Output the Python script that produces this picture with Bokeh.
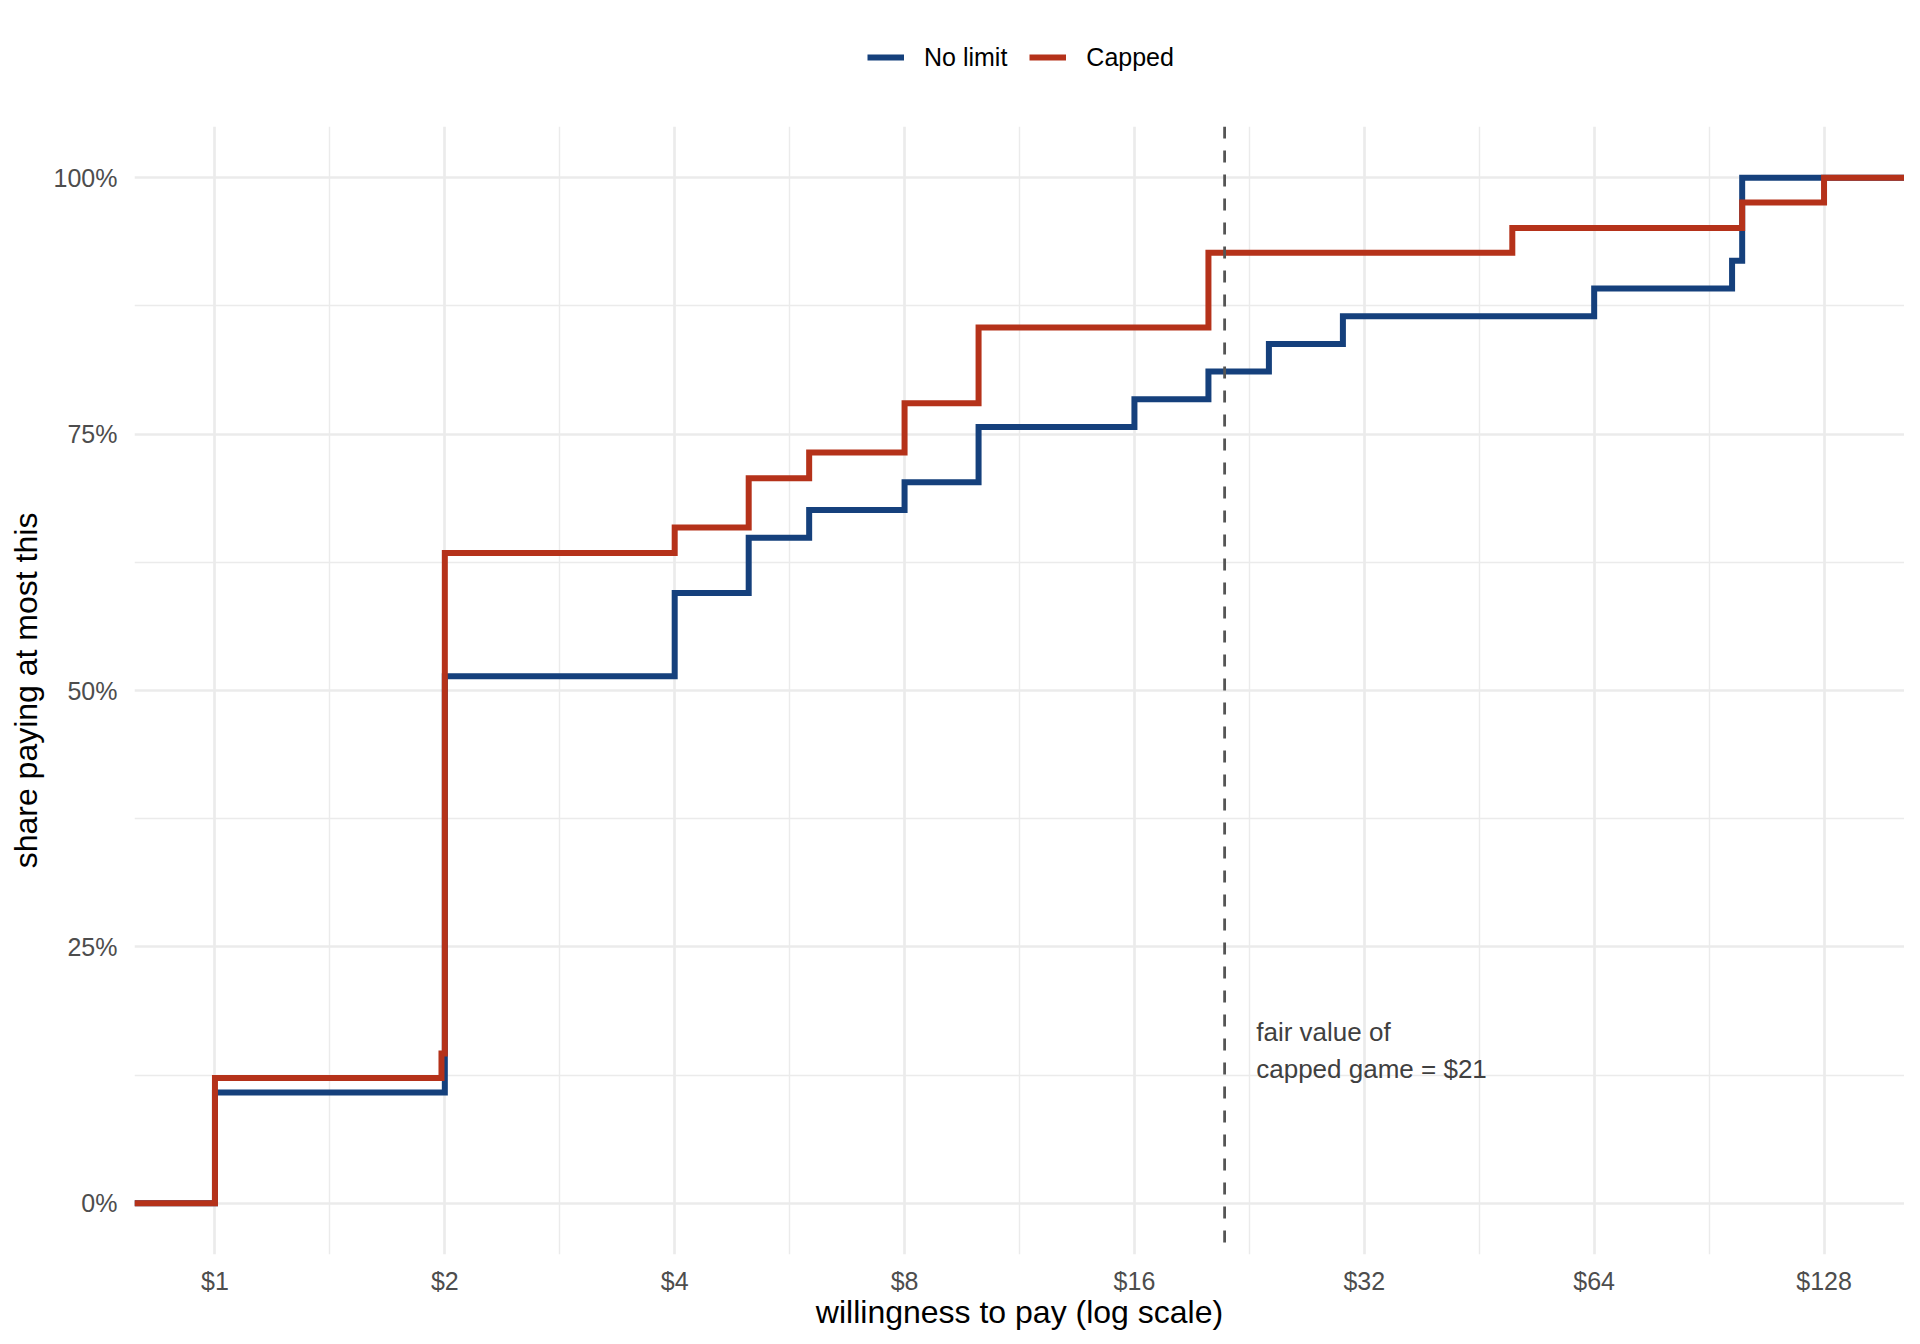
import math
from bokeh.plotting import figure
from bokeh.layouts import column
from bokeh.models import Range1d, FixedTicker, Span, Legend, LegendItem, Label
from bokeh.embed import file_html
from bokeh.resources import INLINE

# ---- data ----
series_names = ["No limit", "Capped"]
series_colors = ["#15407C", "#B5321A"]

nolimit_price = [1, 2, 4, 5, 6, 8, 10, 16, 20, 24, 30, 64, 97, 100]
nolimit_share = [0.108, 0.514, 0.595, 0.649, 0.676, 0.703, 0.757, 0.784,
                 0.811, 0.838, 0.865, 0.892, 0.919, 1.0]

capped_price = [1, 1.98, 2, 4, 5, 6, 8, 10, 20, 50, 100, 128]
capped_share = [0.122, 0.146, 0.634, 0.659, 0.707, 0.732, 0.780, 0.854,
                0.927, 0.951, 0.976, 1.0]

x_tick_values = [1, 2, 4, 8, 16, 32, 64, 128]
x_tick_labels = ["$1", "$2", "$4", "$8", "$16", "$32", "$64", "$128"]
y_tick_values = [0, 0.25, 0.5, 0.75, 1]
y_tick_labels = ["0%", "25%", "50%", "75%", "100%"]

fair_value = 21
annotation_lines = ["fair value of", "capped game = $21"]
annotation_x = 23.1
annotation_y = 0.149

# ---- ranges (ggplot-like 5% expansion, log2 space for x) ----
all_prices = nolimit_price + capped_price
lo, hi = math.log2(min(all_prices)), math.log2(max(all_prices))
pad = 0.05 * (hi - lo)
x_start, x_end = 2 ** (lo - pad), 2 ** (hi + pad)

FONT = "Liberation Sans"
LEGEND_H = 100

# ---- legend strip above the panel ----
leg = figure(width=1904, height=LEGEND_H, output_backend="svg",
             toolbar_location=None, x_axis_location=None, y_axis_location=None,
             x_range=Range1d(0, 1), y_range=Range1d(0, 1),
             min_border_left=0, min_border_right=0, min_border_top=0,
             min_border_bottom=0)
leg.outline_line_color = None
leg.xgrid.visible = False
leg.ygrid.visible = False
# legend-only renderers, their points lie outside the strip's range
dummy = [leg.line(x=[5, 6], y=[5, 6], line_color=c, line_width=6,
                  line_cap="butt")
         for c in series_colors]
legend = Legend(items=[LegendItem(label=n, renderers=[r])
                       for n, r in zip(series_names, dummy)],
                orientation="horizontal", location=(733, 28),
                padding=0, margin=0, spacing=22,
                glyph_width=37, glyph_height=30, label_height=30,
                label_standoff=20, label_text_font=FONT,
                label_text_font_size="25px", label_text_color="black",
                border_line_color=None, background_fill_alpha=0)
leg.add_layout(legend)

# ---- main panel ----
p = figure(frame_width=1770, frame_height=1128, x_axis_type="log",
           x_range=Range1d(x_start, x_end), y_range=Range1d(-0.05, 1.05),
           output_backend="svg", toolbar_location=None,
           min_border_left=134, min_border_right=0,
           min_border_top=26, min_border_bottom=0)
p.outline_line_color = None
p.background_fill_color = "white"
p.border_fill_color = "white"

minor_x = [2 ** (k + 0.5) for k in range(-1, 8)]
minor_y = [0.125, 0.375, 0.625, 0.875]
p.xaxis.ticker = FixedTicker(ticks=x_tick_values, minor_ticks=minor_x)
p.yaxis.ticker = FixedTicker(ticks=y_tick_values, minor_ticks=minor_y)
p.xaxis.major_label_overrides = dict(zip(x_tick_values, x_tick_labels))
p.yaxis.major_label_overrides = dict(zip(y_tick_values, y_tick_labels))

for ax in (p.xaxis, p.yaxis):
    ax.axis_line_color = None
    ax.major_tick_line_color = None
    ax.minor_tick_line_color = None
    ax.major_tick_out = 0
    ax.major_tick_in = 0
    ax.major_label_text_font = FONT
    ax.major_label_text_font_size = "25px"
    ax.major_label_text_color = "#4d4d4d"
    ax.axis_label_text_font = FONT
    ax.axis_label_text_font_size = "32px"
    ax.axis_label_text_font_style = "normal"
    ax.axis_label_text_color = "black"

p.xaxis.axis_label = "willingness to pay (log scale)"
p.yaxis.axis_label = "share paying at most this"
p.xaxis.major_label_standoff = 8
p.xaxis.axis_label_standoff = -4
p.yaxis.major_label_standoff = 13
p.yaxis.axis_label_standoff = 7

for g in (p.xgrid, p.ygrid):
    g.grid_line_color = "#ebebeb"
    g.grid_line_width = 2.7
    g.minor_grid_line_color = "#ebebeb"
    g.minor_grid_line_width = 1.4

# ---- step lines (ecdf, padded to the panel edges) ----
r_nolimit = p.step(x=[x_start] + nolimit_price + [x_end],
                   y=[0] + nolimit_share + [nolimit_share[-1]],
                   mode="after", line_color=series_colors[0], line_width=6,
                   line_join="miter", line_cap="butt")
r_capped = p.step(x=[x_start] + capped_price + [x_end],
                  y=[0] + capped_share + [capped_share[-1]],
                  mode="after", line_color=series_colors[1], line_width=6,
                  line_join="miter", line_cap="butt")

# ---- fair value marker ----
p.add_layout(Span(location=fair_value, dimension="height",
                  line_color="#555555", line_width=2.8, line_dash="12 12"))

line_gap = 0.0179
for i, txt in enumerate(annotation_lines):
    p.add_layout(Label(x=annotation_x, y=annotation_y + line_gap * (1 - 2 * i),
                       text=txt, text_font=FONT, text_font_size="26px",
                       text_color="#404040", text_align="left",
                       text_baseline="middle"))

layout = column(leg, p, spacing=0)
open("out.html", "w").write(file_html(layout, INLINE))
